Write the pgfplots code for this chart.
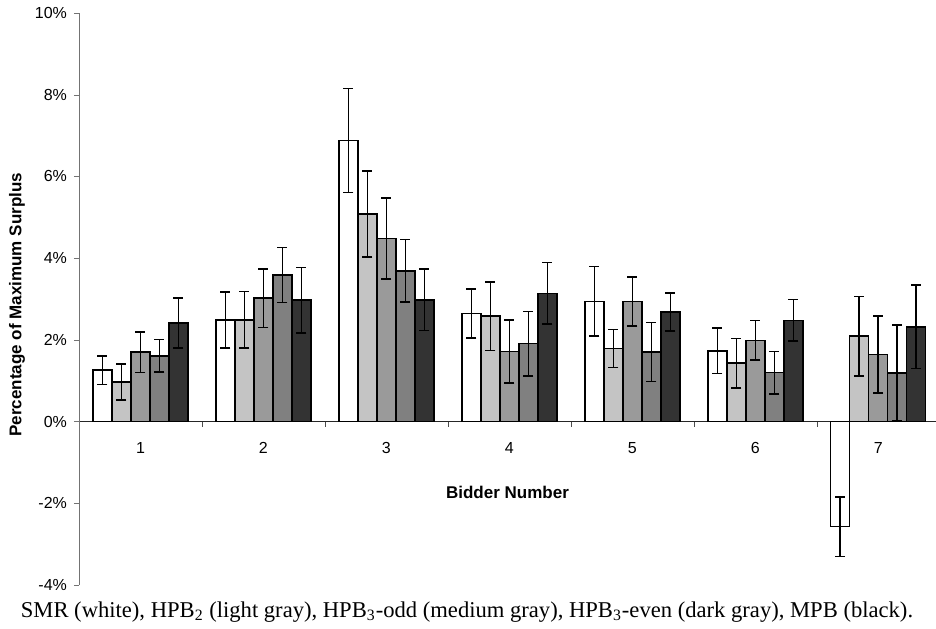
\documentclass[border=0pt]{standalone}
\usepackage{fontspec}
\setmainfont{Liberation Sans}
\newfontfamily\capfont{Liberation Serif}
\usepackage{pgfplots}
\usepackage{pgfplotstable}
\pgfplotsset{compat=1.18}

\definecolor{lgray}{HTML}{C4C4C4}
\definecolor{mgray}{HTML}{9A9A9A}
\definecolor{dgray}{HTML}{808080}
\definecolor{blk}{HTML}{333333}

% bidder, mean, half-width of error bar
\pgfplotstableread{
x y e
1 1.26 0.35
2 2.49 0.685
3 6.88 1.27
4 2.65 0.60
5 2.94 0.85
6 1.73 0.555
7 -2.57 0.73
}\smr
\pgfplotstableread{
x y e
1 0.97 0.445
2 2.49 0.69
3 5.08 1.05
4 2.58 0.84
5 1.79 0.465
6 1.43 0.605
7 2.09 0.97
}\hpbtwo
\pgfplotstableread{
x y e
1 1.70 0.495
2 3.02 0.72
3 4.48 0.99
4 1.72 0.77
5 2.94 0.595
6 1.99 0.48
7 1.64 0.94
}\hpbodd
\pgfplotstableread{
x y e
1 1.61 0.395
2 3.59 0.675
3 3.69 0.765
4 1.91 0.79
5 1.70 0.72
6 1.20 0.52
7 1.19 1.175
}\hpbeven
\pgfplotstableread{
x y e
1 2.41 0.615
2 2.97 0.80
3 2.98 0.755
4 3.14 0.755
5 2.68 0.465
6 2.48 0.51
7 2.32 1.025
}\mpb

\begin{document}
\begin{tikzpicture}
\begin{axis}[
  width=428.5pt, height=286pt, scale only axis,
  xmin=0.5, xmax=7.47, ymin=-4, ymax=10,
  axis y line*=left, axis x line*=middle,
  y axis line style={black!55},
  x axis line style={black!85},
  tick align=outside,
  /pgf/number format/assume math mode=true,
  ytick={-4,-2,...,10},
  yticklabels={-4\%,-2\%,0\%,2\%,4\%,6\%,8\%,10\%},
  ytick style={black!55},
  major tick length=2.5pt,
  xtick={1,...,7},
  major x tick style={draw=none},
  minor xtick={1.5,2.5,...,6.5},
  minor x tick style={black!70},
  minor tick length=2.5pt,
  xticklabel style={yshift=-4.5pt},
  tick label style={font=\fontsize{8}{9}\selectfont},
  xlabel={Bidder Number}, ylabel={Percentage of Maximum Surplus},
  every axis x label/.style={at={(axis description cs:0.5,0.161)}, anchor=center,
    font=\bfseries\fontsize{8.5}{10}\selectfont},
  every axis y label/.style={at={(axis description cs:-0.0723,0.49)}, anchor=center, rotate=90,
    font=\bfseries\fontsize{8.5}{10}\selectfont},
  ybar, bar width=0.1545,
  every axis plot/.append style={draw=black, line width=0.75pt,
    error bars/y dir=both, error bars/y explicit,
    error bars/error bar style={line width=0.75pt, black},
    error bars/error mark options={rotate=90, mark size=2.5pt, line width=0.75pt, black}},
  clip=false
]
\addplot[fill=white, bar shift=-0.309] table[x=x, y=y, y error=e] {\smr};
\addplot[fill=lgray, bar shift=-0.1545] table[x=x, y=y, y error=e] {\hpbtwo};
\addplot[fill=mgray, bar shift=0] table[x=x, y=y, y error=e] {\hpbodd};
\addplot[fill=dgray, bar shift=0.1545] table[x=x, y=y, y error=e] {\hpbeven};
\addplot[fill=blk, bar shift=0.309] table[x=x, y=y, y error=e] {\mpb};
\end{axis}
\node[font=\capfont\fontsize{11.3}{13}\selectfont, anchor=center] at (194pt,-13.5pt)
  {SMR (white), HPB\textsubscript{2} (light gray), HPB\textsubscript{3}-odd (medium gray), HPB\textsubscript{3}-even (dark gray), MPB (black).};
\pgfresetboundingbox
\path[use as bounding box] (-39.5pt,-21.5pt) rectangle (428.5pt,292.5pt);
\end{tikzpicture}
\end{document}
